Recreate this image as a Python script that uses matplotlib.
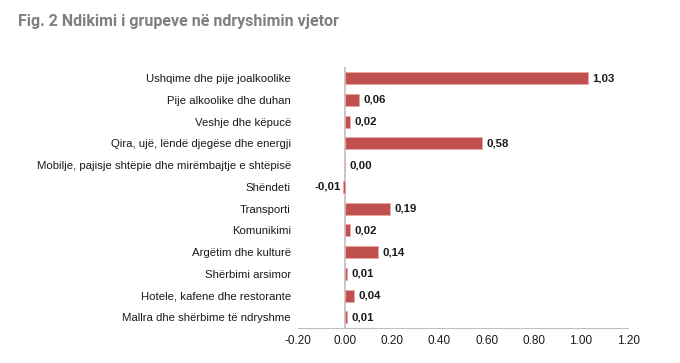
import matplotlib.pyplot as plt

categories = [
    "Ushqime dhe pije joalkoolike",
    "Pije alkoolike dhe duhan",
    "Veshje dhe këpucë",
    "Qira, ujë, lëndë djegëse dhe energji",
    "Mobilje, pajisje shtëpie dhe mirëmbajtje e shtëpisë",
    "Shëndeti",
    "Transporti",
    "Komunikimi",
    "Argëtim dhe kulturë",
    "Shërbimi arsimor",
    "Hotele, kafene dhe restorante",
    "Mallra dhe shërbime të ndryshme",
]
values = [1.03, 0.06, 0.02, 0.58, 0.00, -0.01, 0.19, 0.02, 0.14, 0.01, 0.04, 0.01]
ticks = [-0.2, 0.0, 0.2, 0.4, 0.6, 0.8, 1.0, 1.2]

plt.rcParams['font.family'] = ['Liberation Sans', 'DejaVu Sans']

fig = plt.figure(figsize=(6.8, 3.63), dpi=100)
ax = fig.add_axes([0.438, 0.096, 0.486, 0.719])

pos = list(range(len(categories)))
ax.barh(pos, values, height=0.55, color='#c0504d', edgecolor='#e8a8a6', linewidth=0.6, zorder=2)
for p, v in zip(pos, values):
    txt = f"{v:.2f}".replace('.', ',')
    if v < 0:
        ax.text(v - 0.006, p, txt, ha='right', va='center', fontsize=8.2, fontweight='bold', color='#1a1a1a')
    else:
        ax.text(v + 0.018, p, txt, ha='left', va='center', fontsize=8.2, fontweight='bold', color='#1a1a1a')

ax.set_yticks(pos)
ax.set_yticklabels(categories, fontsize=8.2, color='#1a1a1a')
ax.set_ylim(len(categories) - 0.5, -0.5)
ax.set_xlim(-0.2, 1.2)
ax.set_xticks(ticks)
ax.set_xticklabels([f"{t:.2f}" for t in ticks], fontsize=8.5, color='#1a1a1a')
ax.tick_params(axis='y', length=0, pad=5)
ax.tick_params(axis='x', length=0, pad=5)
for s in ['top', 'right', 'left']:
    ax.spines[s].set_visible(False)
ax.spines['bottom'].set_color('#bfbfbf')
ax.axvline(0, color='#bfbfbf', linewidth=1.2, zorder=1)

fig.text(0.026, 0.942, "Fig. 2 Ndikimi i grupeve në ndryshimin vjetor", fontsize=11.5,
         fontweight='bold', color='#7f7f7f', va='center', ha='left',
         family=['Roboto', 'Liberation Sans'])

fig.savefig('out.png', dpi=100)
